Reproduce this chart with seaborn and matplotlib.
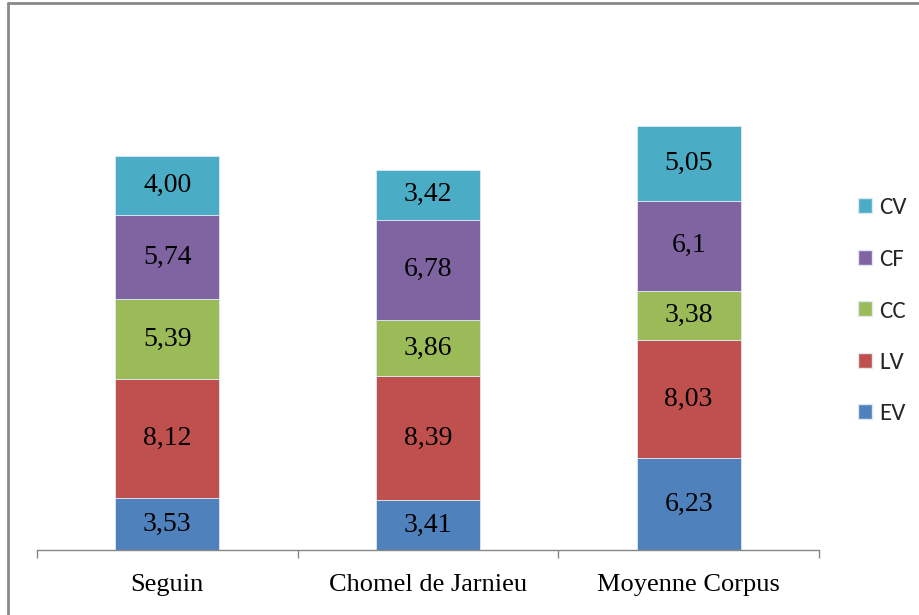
import numpy as np
import pandas as pd
import matplotlib
matplotlib.use("Agg")
import matplotlib.pyplot as plt
import matplotlib.patches as mpatches
from matplotlib.lines import Line2D
import seaborn as sns

# ------------------------------------------------------------------ #
# Données
# ------------------------------------------------------------------ #
categories = ["Seguin", "Chomel de Jarnieu", "Moyenne Corpus"]
series = ["EV", "LV", "CC", "CF", "CV"]

ev = [3.53, 3.41, 6.23]
lv = [8.12, 8.39, 8.03]
cc = [5.39, 3.86, 3.38]
cf = [5.74, 6.78, 6.10]
cv = [4.00, 3.42, 5.05]

ev_labels = ["3,53", "3,41", "6,23"]
lv_labels = ["8,12", "8,39", "8,03"]
cc_labels = ["5,39", "3,86", "3,38"]
cf_labels = ["5,74", "6,78", "6,1"]
cv_labels = ["4,00", "3,42", "5,05"]

colors = ["#4F81BD", "#C0504D", "#9BBB59", "#8064A2", "#4BACC6"]

values = [ev, lv, cc, cf, cv]
labels = [ev_labels, lv_labels, cc_labels, cf_labels, cv_labels]

# ------------------------------------------------------------------ #
# Figure
# ------------------------------------------------------------------ #
sns.set_theme(style="white")
plt.rcParams["font.family"] = ["Liberation Serif", "DejaVu Serif"]

W, H = 920, 615
fig = plt.figure(figsize=(W / 100, H / 100), dpi=100)
ax = fig.add_axes([37 / W, (H - 550) / H, (819 - 37) / W, 440 / H])

bottom = np.zeros(len(categories))
for name, vals, labs, col in zip(series, values, labels, colors):
    df = pd.DataFrame({"cat": categories, "val": vals})
    sns.barplot(data=df, x="cat", y="val", color=col, width=0.4,
                bottom=bottom, edgecolor="#dfe8f2", linewidth=0.6,
                saturation=1, ax=ax, zorder=2)
    for i, (v, t) in enumerate(zip(vals, labs)):
        ax.text(i, bottom[i] + v / 2, t, ha="center", va="center",
                fontsize=20, color="black", zorder=3)
    bottom = bottom + np.array(vals)

ax.set_xlim(-0.5, 2.5)
ax.set_ylim(0, 440 / 14.71)
ax.set_xlabel("")
ax.set_ylabel("")
ax.set_yticks([])
for s in ["top", "right", "left"]:
    ax.spines[s].set_visible(False)
ax.spines["bottom"].set_color("#868686")
ax.spines["bottom"].set_linewidth(1.0)

ax.set_xticks(range(len(categories)))
ax.set_xticklabels(categories, fontsize=19)
ax.set_xticks([-0.5, 0.5, 1.5, 2.5], minor=True)
ax.tick_params(axis="x", which="major", length=0, pad=17, colors="black")
ax.tick_params(axis="x", which="minor", length=6, width=1.0,
               color="#868686", direction="out", bottom=True)

# Légende
handles = [mpatches.Patch(facecolor=c, edgecolor="#dfe8f2", label=n)
           for n, c in zip(series, colors)][::-1]
fig.legend(handles=handles, loc="center left",
           bbox_to_anchor=(858 / W, 1 - 311 / H), frameon=False,
           prop={"family": ["Carlito", "Liberation Sans Narrow",
                            "Liberation Sans", "DejaVu Sans"], "size": 18},
           handlelength=0.55, handleheight=0.55, handletextpad=0.3,
           labelspacing=1.22, borderpad=0.0, borderaxespad=0.0)

# Cadre gris
fig.add_artist(Line2D([8 / W, 1.0], [1 - 3 / H, 1 - 3 / H],
                      color="#8a8a8a", lw=2, transform=fig.transFigure))
fig.add_artist(Line2D([8 / W, 8 / W], [0.0, 1 - 3 / H],
                      color="#8a8a8a", lw=2, transform=fig.transFigure))

fig.savefig("out.png", dpi=100)
